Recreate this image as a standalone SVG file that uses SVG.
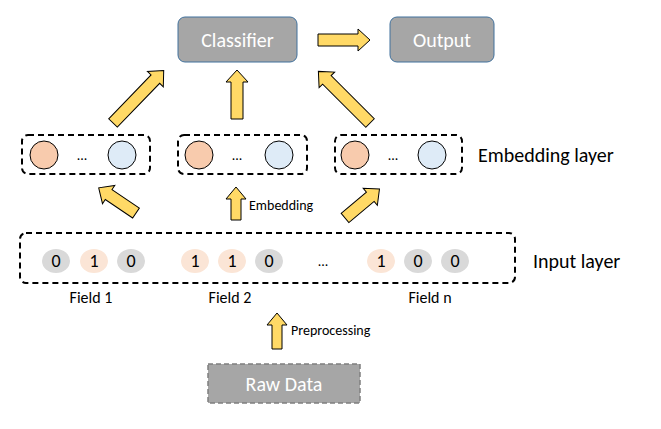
<svg xmlns="http://www.w3.org/2000/svg" width="661" height="429" viewBox="0 0 661 429">
<style>
text{font-family:Calibri,"Liberation Sans",sans-serif}
.box{fill:#a6a6a6;stroke:#41719c;stroke-width:1}
.bt{fill:#fff;font-size:20px;text-anchor:middle}
.dash{fill:none;stroke:#000;stroke-width:2;stroke-dasharray:6 4}
.arr{fill:#ffd966;stroke:#000;stroke-width:1}
.or{fill:#f8cbad;stroke:#000;stroke-width:1}
.bl{fill:#deebf7;stroke:#000;stroke-width:1}
.lab{font-size:20px;fill:#000}
.sm{font-size:14px;fill:#000}
.fl{font-size:16px;fill:#000;text-anchor:middle}
.num{font-size:18px;text-anchor:middle;fill:#000}
.g{fill:#d9d9d9}.p{fill:#fbe5d6}
</style>
<rect width="661" height="429" fill="#fff"/>
<g id="classifier"><rect class="box" x="178" y="17" width="119" height="45" rx="7"/><text class="bt" x="237.5" y="47">Classifier</text></g>
<g id="output"><rect class="box" x="390" y="17" width="104" height="45" rx="7"/><text class="bt" x="442" y="47">Output</text></g>
<g id="emb1"><rect class="dash" x="22" y="135" width="128" height="39" rx="6"/><ellipse class="or" cx="44" cy="155" rx="14" ry="14"/><text class="sm" x="82" y="160" text-anchor="middle">...</text><ellipse class="bl" cx="122" cy="155" rx="14" ry="14"/></g>
<g id="emb2"><rect class="dash" x="178" y="135" width="129" height="39" rx="6"/><ellipse class="or" cx="199" cy="155" rx="14" ry="14"/><text class="sm" x="237" y="160" text-anchor="middle">...</text><ellipse class="bl" cx="279" cy="155" rx="14" ry="14"/></g>
<g id="emb3"><rect class="dash" x="335" y="135" width="127" height="39" rx="6"/><ellipse class="or" cx="355" cy="155" rx="14" ry="14"/><text class="sm" x="393" y="160" text-anchor="middle">...</text><ellipse class="bl" cx="432" cy="155" rx="14" ry="14"/></g>
<g id="embedding-layer-label"><text class="lab" x="478" y="162">Embedding layer</text></g>
<g id="input"><rect class="dash" x="20" y="233" width="495" height="50" rx="6"/>
<ellipse class="g" cx="56" cy="261" rx="14" ry="12"/><text class="num" x="56" y="267">0</text>
<ellipse class="p" cx="94" cy="261" rx="14" ry="12"/><text class="num" x="94" y="267">1</text>
<ellipse class="g" cx="131" cy="261" rx="14" ry="12"/><text class="num" x="131" y="267">0</text>
<ellipse class="p" cx="195" cy="261" rx="14" ry="12"/><text class="num" x="195" y="267">1</text>
<ellipse class="p" cx="232" cy="261" rx="14" ry="12"/><text class="num" x="232" y="267">1</text>
<ellipse class="g" cx="269" cy="261" rx="14" ry="12"/><text class="num" x="269" y="267">0</text>
<text class="sm" x="323" y="266" text-anchor="middle">...</text>
<ellipse class="p" cx="381" cy="261" rx="14" ry="12"/><text class="num" x="381" y="267">1</text>
<ellipse class="g" cx="418" cy="261" rx="14" ry="12"/><text class="num" x="418" y="267">0</text>
<ellipse class="g" cx="455" cy="261" rx="14" ry="12"/><text class="num" x="455" y="267">0</text>
<text class="fl" x="91" y="303">Field 1</text>
<text class="fl" x="230" y="303">Field 2</text>
<text class="fl" x="430" y="303">Field n</text>
</g>
<g id="input-layer-label"><text class="lab" x="533" y="268">Input layer</text></g>
<g id="raw"><rect x="208" y="364" width="152" height="39" fill="#a6a6a6" stroke="#7f7f7f" stroke-width="1.5" stroke-dasharray="5 3"/><text class="bt" x="284" y="391">Raw Data</text></g>
<g id="connectors">
<path class="arr" transform="translate(113,123) rotate(44)" d="M-6 0V-61H-11L0-73L11-61H6V0Z"/>
<path class="arr" transform="translate(237,119) rotate(0)" d="M-6 0V-37H-11L0-49L11-37H6V0Z"/>
<path class="arr" transform="translate(370,123) rotate(-45)" d="M-6 0V-61H-11L0-73L11-61H6V0Z"/>
<path class="arr" transform="translate(318,40) rotate(90)" d="M-6 0V-40H-11L0-52L11-40H6V0Z"/>
<path class="arr" transform="translate(136,213) rotate(-56)" d="M-6 0V-33H-11L0-45L11-33H6V0Z"/>
<path class="arr" transform="translate(236,220) rotate(0)" d="M-5 0V-21H-10L0-33L10-21H5V0Z"/>
<path class="arr" transform="translate(345,218) rotate(50)" d="M-6 0V-33H-11L0-45L11-33H6V0Z"/>
<path class="arr" transform="translate(277,349) rotate(0)" d="M-5 0V-24H-10L0-36L10-24H5V0Z"/>
<text class="sm" x="249" y="210">Embedding</text>
<text class="sm" x="291" y="335">Preprocessing</text>
</g>
</svg>
